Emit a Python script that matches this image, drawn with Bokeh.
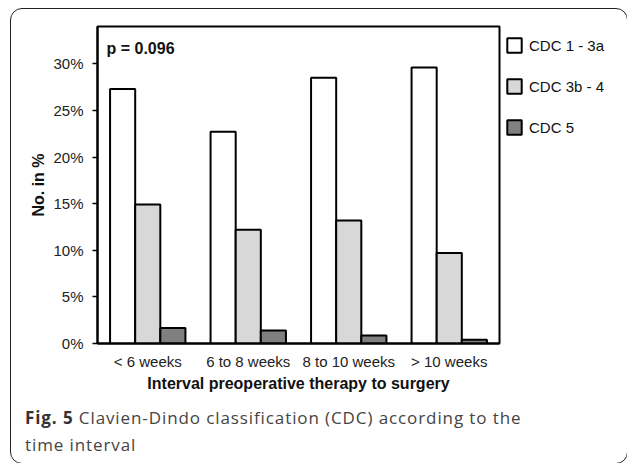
from bokeh.plotting import figure
from bokeh.models import (Range1d, FactorRange, FixedTicker, PrintfTickFormatter,
                          Legend, LegendItem, Label, ColumnDataSource, Div)
from bokeh.layouts import column, row
from bokeh.transform import dodge
from bokeh.embed import file_html
from bokeh.resources import INLINE

categories = ["< 6 weeks", "6 to 8 weeks", "8 to 10 weeks", "> 10 weeks"]
cdc_1_3a = [27.3, 22.7, 28.5, 29.6]
cdc_3b_4 = [14.9, 12.2, 13.2, 9.7]
cdc_5 = [1.65, 1.4, 0.85, 0.4]
series_names = ["CDC 1 - 3a", "CDC 3b - 4", "CDC 5"]
y_ticks = [0, 5, 10, 15, 20, 25, 30]

CHART_FONT = "Liberation Sans"
CAP_FONT = "Open Sans"

src = ColumnDataSource(dict(cat=categories, a=cdc_1_3a, b=cdc_3b_4, c=cdc_5))

p = figure(width=501, height=404, x_range=FactorRange(*categories, range_padding=0),
           y_range=Range1d(0, 34), output_backend="svg", toolbar_location=None,
           min_border_left=97, min_border_right=2, min_border_top=26, min_border_bottom=61)
p.x_range.range_padding = 0
p.grid.visible = False
p.outline_line_color = "black"
p.outline_line_width = 2
p.background_fill_color = "white"
p.border_fill_color = "white"

fills = ["white", "#d8d8d8", "#808080"]
cols = ["a", "b", "c"]
offsets = [-0.25, 0.0, 0.25]
for col, off, fc in zip(cols, offsets, fills):
    p.vbar(x=dodge("cat", off, range=p.x_range), top=col, width=0.25, source=src,
           fill_color=fc, line_color="black", line_width=2)

# axes
p.yaxis.ticker = FixedTicker(ticks=y_ticks)
p.yaxis.formatter = PrintfTickFormatter(format="%d%%")
p.yaxis.major_tick_out = 5
p.yaxis.major_tick_in = 0
p.yaxis.minor_tick_out = 0
p.yaxis.minor_tick_in = 0
p.yaxis.major_label_standoff = 9
p.yaxis.axis_label = "No. in %"
p.yaxis.axis_label_standoff = 3

p.xaxis.major_tick_out = 0
p.xaxis.major_tick_in = 0
p.xaxis.major_label_standoff = 9
p.xaxis.axis_label = "Interval preoperative therapy to surgery"
p.xaxis.axis_label_standoff = 2

for ax in (p.xaxis, p.yaxis):
    ax.axis_line_color = "black"
    ax.axis_line_width = 2
    ax.major_tick_line_color = "black"
    ax.major_tick_line_width = 1.5
    ax.major_label_text_font = CHART_FONT
    ax.major_label_text_font_size = "15px"
    ax.major_label_text_color = "#222222"
    ax.axis_label_text_font = CHART_FONT
    ax.axis_label_text_font_size = "16px"
    ax.axis_label_text_font_style = "bold"
    ax.axis_label_text_color = "#111111"

# p-value
p.add_layout(Label(x=106, y=48, x_units="canvas", y_units="canvas", text="p = 0.096",
                   text_font=CHART_FONT, text_font_size="16px", text_font_style="bold",
                   text_color="#111111", text_baseline="middle"))

# legend panel: a small canvas (frames of a row are aligned, so same top/bottom borders);
# its copies of the series lie outside its view, so only the legend swatches show
lf = figure(width=126, height=404, x_range=p.x_range, y_range=Range1d(-2, -1),
            x_axis_type=None, y_axis_type=None,
            output_backend="svg", toolbar_location=None,
            min_border_left=4, min_border_right=0, min_border_top=26, min_border_bottom=61)
lf.grid.visible = False
lf.outline_line_color = None
lf.border_fill_color = "white"
lf.background_fill_color = "white"
leg_renderers = []
for col, off, fc in zip(cols, offsets, fills):
    leg_renderers.append(lf.vbar(x=dodge("cat", off, range=lf.x_range), top=col, width=0.25,
                                 source=src, fill_color=fc, line_color="black", line_width=2))
legend = Legend(items=[LegendItem(label=n, renderers=[r]) for n, r in zip(series_names, leg_renderers)],
                location=(0, 207), orientation="vertical",
                glyph_width=18, glyph_height=18, label_height=18, spacing=23,
                padding=0, margin=0, label_standoff=6,
                border_line_color=None, background_fill_alpha=0,
                label_text_font=CHART_FONT, label_text_font_size="15px",
                label_text_color="#111111")
lf.add_layout(legend)

caption = Div(
    text=('<div style="position:relative; width:627px; height:59px;">'
          '<div style="position:absolute; left:0px; top:-404px; width:627px; height:463px; '
          'overflow:hidden; pointer-events:none;">'
          '<div style="position:absolute; left:502px; top:15px; width:125px; height:19px; '
          'background:white;"></div>'
          '<div style="position:absolute; left:10px; top:8px; width:618px; height:456px; '
          'box-sizing:border-box; border:1.5px solid #222222; border-radius:12px;"></div></div>'
          '<div style="position:absolute; left:25px; top:0px; font-family:\'Open Sans\'; font-size:17px; '
          'letter-spacing:0.9px; line-height:27px; color:#444444; white-space:nowrap;">'
          '<b style="color:#333333;">Fig. 5</b> Clavien-Dindo classification (CDC) according to the'
          '<br>time interval</div></div>'),
    width=627, height=59, margin=0)

layout = column(row(p, lf, spacing=0, margin=0), caption, spacing=0, margin=0)

open("out.html", "w").write(file_html(layout, INLINE))
